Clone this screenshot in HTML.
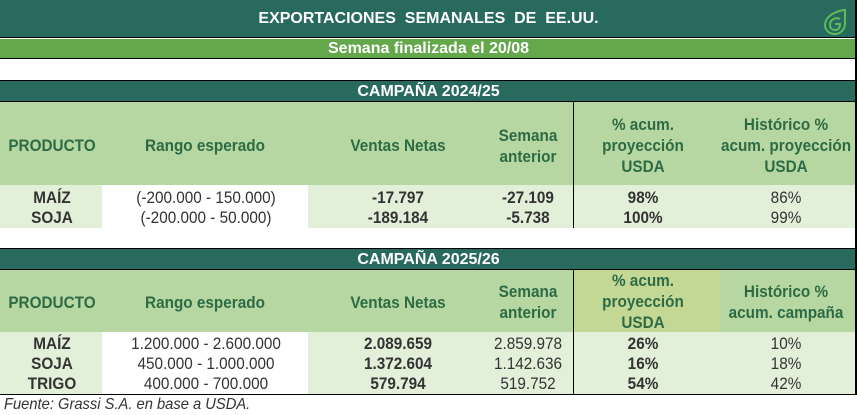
<!DOCTYPE html>
<html><head><meta charset="utf-8"><style>
*{margin:0;padding:0;box-sizing:border-box}
body{width:857px;height:415px;background:#fff;position:relative;overflow:hidden;font-family:"Liberation Sans",Arial,sans-serif;font-size:17px;color:#222}
.a{position:absolute}
.dk{background:#286b5e;color:#fff;font-weight:bold;text-align:center}
.t{position:absolute;text-align:center;transform:translateX(-50%) scaleX(0.9);white-space:nowrap;line-height:20px}
.h{color:#2e6b45;font-weight:bold;font-size:17px;line-height:21px}
.b{font-weight:bold}
.r{color:#333}
</style></head><body>
<div class="a dk" style="left:0;top:0;width:857px;height:38px;line-height:38px;font-size:16px;border-bottom:1px solid #000">EXPORTACIONES&nbsp; SEMANALES&nbsp; DE&nbsp; EE.UU.</div>
<svg class="a" style="left:822px;top:8px" width="26" height="28" viewBox="0 0 26 28"><path d="M22 2 C10 4 3 10 3 17 C3 23 8 26 13 26 C19 26 23 21 23 15 L23 2 Z" fill="none" stroke="#5fbb5a" stroke-width="2"/><path d="M18 11 C14 9 8 11 8 17 C8 21 11 22 13 22 C16 22 18 20 18 16 L13 16" fill="none" stroke="#5fbb5a" stroke-width="2"/></svg>
<div class="a" style="left:0;top:39px;width:857px;height:20px;background:#63a84a;color:#fff;font-weight:bold;text-align:center;line-height:20px;font-size:16px;border-bottom:1px solid #000">Semana finalizada el 20/08</div>
<div class="a dk" style="left:0;top:80px;width:857px;height:22px;line-height:22px;font-size:16px;border-top:1px solid #000;border-bottom:1px solid #000">CAMPAÑA 2024/25</div>
<div class="a" style="left:0;top:102px;width:857px;height:83px;background:#b6d7a1"></div>
<div class="a" style="left:0;top:185px;width:857px;height:43px;background:#e2efd9"></div>
<div class="a" style="left:102px;top:185px;width:206px;height:43px;background:#fff"></div>
<div class="a" style="left:573px;top:102px;width:1px;height:126px;background:#000"></div>
<div class="t h" style="left:52px;top:135px">PRODUCTO</div>
<div class="t h" style="left:205px;top:135px">Rango esperado</div>
<div class="t h" style="left:398px;top:135px">Ventas Netas</div>
<div class="t h" style="left:528px;top:125px">Semana<br>anterior</div>
<div class="t h" style="left:643px;top:114px">% acum.<br>proyección<br>USDA</div>
<div class="t h" style="left:786px;top:114px">Histórico %<br>acum. proyección<br>USDA</div>
<div class="t b r" style="left:52px;top:188px">MAÍZ<br>SOJA</div>
<div class="t r" style="left:206px;top:188px">(-200.000 - 150.000)<br>(-200.000 - 50.000)</div>
<div class="t b r" style="left:398px;top:188px">-17.797<br>-189.184</div>
<div class="t b r" style="left:528px;top:188px">-27.109<br>-5.738</div>
<div class="t b r" style="left:643px;top:188px">98%<br>100%</div>
<div class="t r" style="left:786px;top:188px">86%<br>99%</div>

<div class="a dk" style="left:0;top:248px;width:857px;height:22px;line-height:22px;font-size:16px;border-top:1px solid #000;border-bottom:1px solid #000">CAMPAÑA 2025/26</div>
<div class="a" style="left:0;top:270px;width:857px;height:62px;background:#b6d7a1"></div>
<div class="a" style="left:573px;top:270px;width:147px;height:62px;background:#c4d896"></div>
<div class="a" style="left:0;top:332px;width:857px;height:62px;background:#e2efd9"></div>
<div class="a" style="left:102px;top:332px;width:206px;height:62px;background:#fff"></div>
<div class="a" style="left:573px;top:270px;width:1px;height:124px;background:#000"></div>
<div class="a" style="left:0;top:394px;width:857px;height:1px;background:#000"></div>
<div class="t h" style="left:52px;top:292px">PRODUCTO</div>
<div class="t h" style="left:205px;top:292px">Rango esperado</div>
<div class="t h" style="left:398px;top:292px">Ventas Netas</div>
<div class="t h" style="left:528px;top:281px">Semana<br>anterior</div>
<div class="t h" style="left:643px;top:270px">% acum.<br>proyección<br>USDA</div>
<div class="t h" style="left:786px;top:281px">Histórico %<br>acum. campaña</div>
<div class="t b r" style="left:52px;top:334px">MAÍZ<br>SOJA<br>TRIGO</div>
<div class="t r" style="left:206px;top:334px">1.200.000 - 2.600.000<br>450.000 - 1.000.000<br>400.000 - 700.000</div>
<div class="t b r" style="left:398px;top:334px">2.089.659<br>1.372.604<br>579.794</div>
<div class="t r" style="left:528px;top:334px">2.859.978<br>1.142.636<br>519.752</div>
<div class="t b r" style="left:643px;top:334px">26%<br>16%<br>54%</div>
<div class="t r" style="left:786px;top:334px">10%<br>18%<br>42%</div>
<div class="a" style="left:4px;top:396px;font-style:italic;font-size:16px;color:#333;transform:scaleX(0.92);transform-origin:left">Fuente: Grassi S.A. en base a USDA.</div>
<div class="a" style="left:855px;top:0;width:2px;height:395px;background:#000"></div>
</body></html>
